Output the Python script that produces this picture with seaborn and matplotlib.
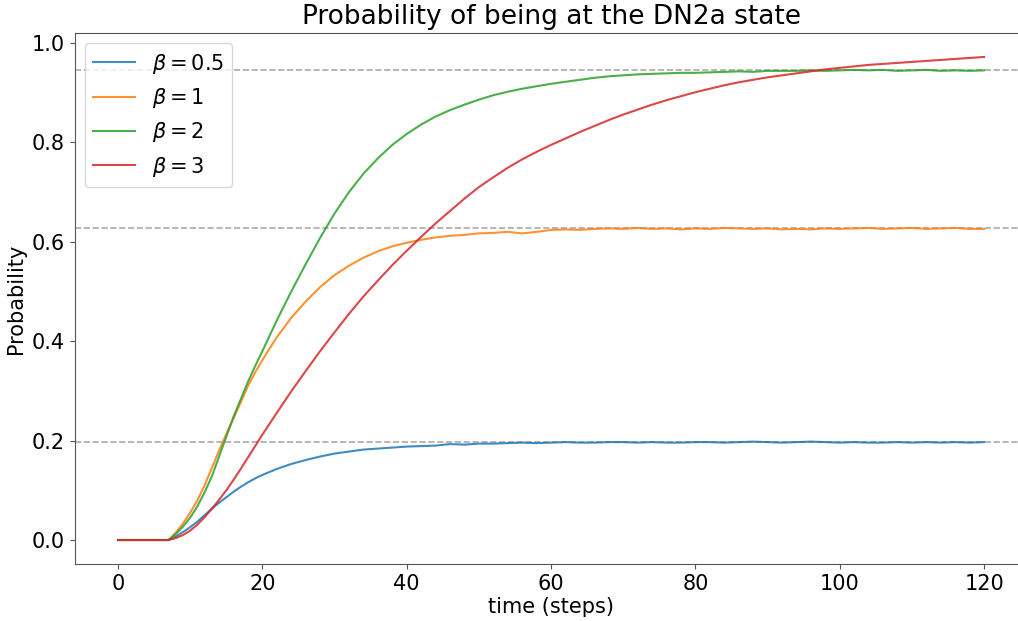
import matplotlib
matplotlib.use("Agg")
import matplotlib.pyplot as plt
import seaborn as sns
import pandas as pd

steps = [0, 2, 4, 6, 7, 8, 9, 10, 11, 12, 13, 14, 15, 16, 17, 18, 19, 20,
         22, 24, 26, 28, 30, 32, 34, 36, 38, 40, 42, 44, 46, 48, 50, 52, 54,
         56, 58, 60, 62, 64, 66, 68, 70, 72, 74, 76, 78, 80, 82, 84, 86, 88,
         90, 92, 94, 96, 98, 100, 102, 104, 106, 108, 110, 112, 114, 116, 118, 120]

beta_05 = [0, 0, 0, 0, 0, 0.007, 0.016, 0.026, 0.037, 0.050, 0.063, 0.075, 0.086,
           0.097, 0.107, 0.116, 0.124, 0.131,
           0.143, 0.153, 0.161, 0.168, 0.174, 0.178, 0.182, 0.184, 0.186, 0.188,
           0.189, 0.190, 0.193, 0.192, 0.194, 0.194, 0.195, 0.196, 0.195, 0.196,
           0.197, 0.196, 0.196, 0.197, 0.197, 0.196, 0.197, 0.196, 0.196, 0.197,
           0.197, 0.196, 0.197, 0.198, 0.197, 0.196, 0.197, 0.198, 0.197, 0.196,
           0.197, 0.196, 0.196, 0.197, 0.196, 0.197, 0.196, 0.197, 0.196, 0.197]

beta_1 = [0, 0, 0, 0, 0, 0.015, 0.033, 0.055, 0.080, 0.110, 0.145, 0.180, 0.213,
          0.245, 0.277, 0.310, 0.337, 0.362,
          0.408, 0.447, 0.480, 0.509, 0.533, 0.552, 0.568, 0.581, 0.591, 0.598,
          0.604, 0.609, 0.612, 0.614, 0.617, 0.618, 0.620, 0.617, 0.620, 0.624,
          0.625, 0.624, 0.626, 0.627, 0.626, 0.628, 0.626, 0.627, 0.625, 0.627,
          0.626, 0.628, 0.627, 0.626, 0.627, 0.625, 0.626, 0.625, 0.627, 0.626,
          0.627, 0.628, 0.626, 0.627, 0.628, 0.626, 0.627, 0.628, 0.626, 0.626]

beta_2 = [0, 0, 0, 0, 0, 0.012, 0.027, 0.045, 0.068, 0.096, 0.128, 0.168, 0.208,
          0.248, 0.283, 0.318, 0.350, 0.380,
          0.442, 0.500, 0.555, 0.608, 0.657, 0.700, 0.737, 0.768, 0.795, 0.817,
          0.836, 0.852, 0.865, 0.876, 0.886, 0.895, 0.902, 0.908, 0.913, 0.918,
          0.922, 0.926, 0.930, 0.933, 0.935, 0.937, 0.938, 0.939, 0.940, 0.940,
          0.941, 0.942, 0.943, 0.942, 0.944, 0.944, 0.944, 0.945, 0.944, 0.945,
          0.946, 0.945, 0.946, 0.944, 0.945, 0.946, 0.944, 0.945, 0.944, 0.945]

beta_3 = [0, 0, 0, 0, 0, 0.004, 0.010, 0.019, 0.031, 0.046, 0.063, 0.081, 0.100,
          0.121, 0.143, 0.166, 0.189, 0.212,
          0.256, 0.299, 0.340, 0.380, 0.418, 0.455, 0.490, 0.522, 0.553, 0.582,
          0.610, 0.637, 0.662, 0.687, 0.710, 0.730, 0.749, 0.766, 0.781, 0.795,
          0.808, 0.821, 0.833, 0.845, 0.856, 0.866, 0.876, 0.885, 0.893, 0.901,
          0.908, 0.915, 0.921, 0.926, 0.931, 0.935, 0.939, 0.943, 0.947, 0.950,
          0.953, 0.956, 0.958, 0.960, 0.962, 0.964, 0.966, 0.968, 0.970, 0.972]

labels = [r"$\beta = 0.5$", r"$\beta = 1$", r"$\beta = 2$", r"$\beta = 3$"]
equilibria = [0.197, 0.628, 0.946]

series = [beta_05, beta_1, beta_2, beta_3]
rows = []
for lab, vals in zip(labels, series):
    for t, v in zip(steps, vals):
        rows.append({"time": t, "prob": v, "beta": lab})
df = pd.DataFrame(rows)

palette = sns.color_palette("tab10", 4)

fig = plt.figure(figsize=(10.18, 6.21), dpi=100)
ax = fig.add_axes([0.0734, 0.0915, 0.9358, 0.8557])

sns.lineplot(data=df, x="time", y="prob", hue="beta", hue_order=labels,
             palette=palette, linewidth=1.5, alpha=0.85, ax=ax)

for eq in equilibria:
    ax.axhline(eq, color="#aaaaaa", linestyle="--", linewidth=1.2, zorder=0)

ax.set_xlim(-6, 126)
ax.set_ylim(-0.0486, 1.0206)
ax.set_xticks([0, 20, 40, 60, 80, 100, 120])
ax.set_yticks([0.0, 0.2, 0.4, 0.6, 0.8, 1.0])
ax.tick_params(labelsize=15, color="#555555")
for side in ["left", "bottom", "top"]:
    ax.spines[side].set_color("#555555")
ax.spines["right"].set_visible(False)
ax.set_xlabel("time (steps)", fontsize=15, labelpad=2)
ax.set_ylabel("Probability", fontsize=15, labelpad=4)
ax.set_title("Probability of being at the DN2a state", fontsize=19, pad=6)

handles, labs = ax.get_legend_handles_labels()
ax.legend(handles, labs, loc="upper left", fontsize=15, framealpha=0.8)

fig.savefig("out.png", dpi=100)
